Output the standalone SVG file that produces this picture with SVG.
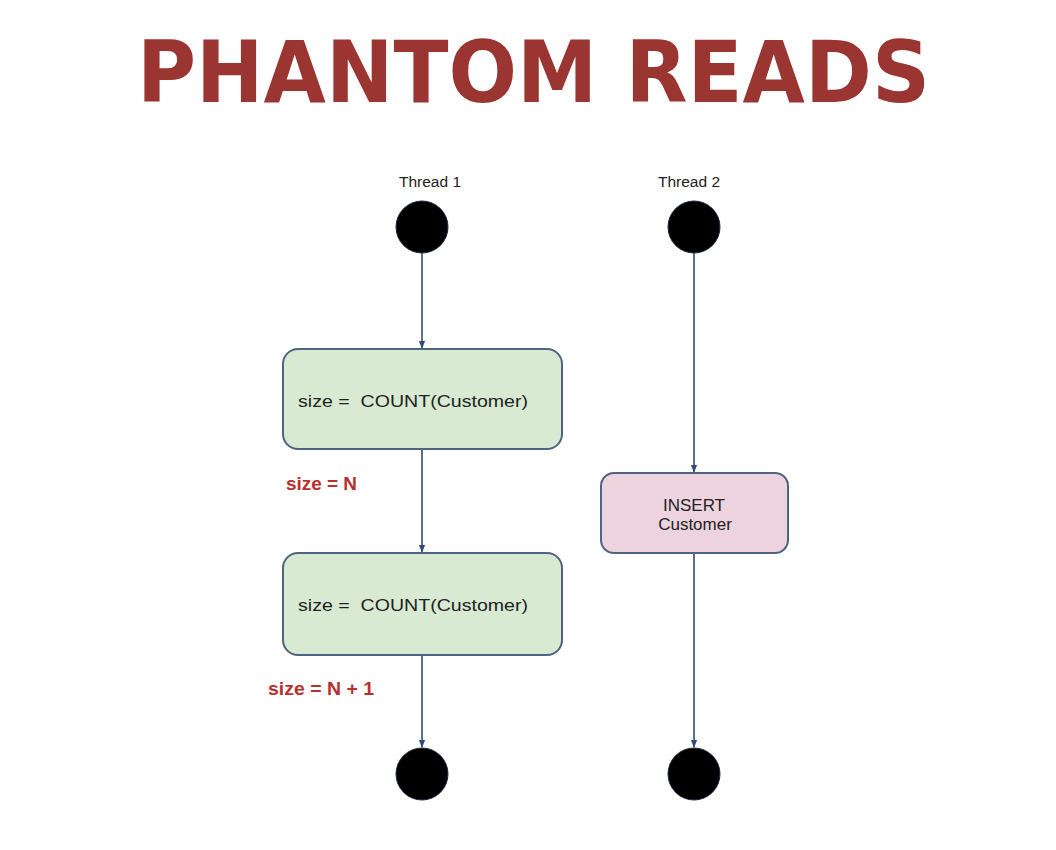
<svg xmlns="http://www.w3.org/2000/svg" width="1056" height="850" viewBox="0 0 1056 850">
<defs>
<style>
.title{font-family:"DejaVu Sans",sans-serif;font-weight:bold;font-size:86px;fill:#9b3532}
.lbl{font-family:"Liberation Sans",Arial,sans-serif;font-size:15.5px;fill:#222}
.txt{font-family:"Liberation Sans",Arial,sans-serif;font-size:17px;fill:#222}
.red{font-family:"Liberation Sans",Arial,sans-serif;font-weight:bold;font-size:18px;fill:#b8312f}
.dot{fill:#000;stroke:#1a2a40;stroke-width:1}
.green{fill:#d9ead3;stroke:#4f6480;stroke-width:2}
.pink{fill:#ecd3de;stroke:#4f6480;stroke-width:2}
.edge{stroke:#2f4f78;stroke-width:1.6;fill:none;marker-end:url(#arr)}
</style>
<marker id="arr" viewBox="0 0 10 10" refX="9" refY="5" markerWidth="8" markerHeight="8" orient="auto" markerUnits="userSpaceOnUse">
<path d="M0,1 L10,5 L0,9 z" fill="#2f4f78"/>
</marker>
</defs>
<rect width="1056" height="850" fill="#fff"/>
<text class="title" x="137" y="102" textLength="793" lengthAdjust="spacingAndGlyphs">PHANTOM READS</text>

<g id="connectors">
<line class="edge" x1="422" y1="253" x2="422" y2="348"/>
<line class="edge" x1="422" y1="450" x2="422" y2="552"/>
<line class="edge" x1="422" y1="656" x2="422" y2="747"/>
<line class="edge" x1="694" y1="253" x2="694" y2="472"/>
<line class="edge" x1="694" y1="554" x2="694" y2="747"/>
</g>

<g id="thread1-start">
<text class="lbl" x="430" y="187" text-anchor="middle">Thread 1</text>
<circle class="dot" cx="422" cy="227" r="26"/>
</g>
<g id="thread2-start">
<text class="lbl" x="689" y="187" text-anchor="middle">Thread 2</text>
<circle class="dot" cx="694" cy="227" r="26"/>
</g>

<g id="count1">
<rect class="green" x="283" y="349" width="279" height="100" rx="15"/>
<text class="txt" x="298" y="407" textLength="230" lengthAdjust="spacingAndGlyphs" xml:space="preserve">size =  COUNT(Customer)</text>
</g>
<g id="label-n">
<text class="red" x="286" y="490" textLength="71" lengthAdjust="spacingAndGlyphs">size = N</text>
</g>
<g id="count2">
<rect class="green" x="283" y="553" width="279" height="102" rx="15"/>
<text class="txt" x="298" y="611" textLength="230" lengthAdjust="spacingAndGlyphs" xml:space="preserve">size =  COUNT(Customer)</text>
</g>
<g id="label-n1">
<text class="red" x="268" y="695" textLength="106" lengthAdjust="spacingAndGlyphs">size = N + 1</text>
</g>
<g id="insert">
<rect class="pink" x="601" y="473" width="187" height="80" rx="13"/>
<text class="txt" x="694" y="511" text-anchor="middle" font-size="18">INSERT</text>
<text class="txt" x="695" y="530" text-anchor="middle" font-size="18">Customer</text>
</g>

<g id="thread1-end">
<circle class="dot" cx="422" cy="774" r="26"/>
</g>
<g id="thread2-end">
<circle class="dot" cx="694" cy="774" r="26"/>
</g>
</svg>
